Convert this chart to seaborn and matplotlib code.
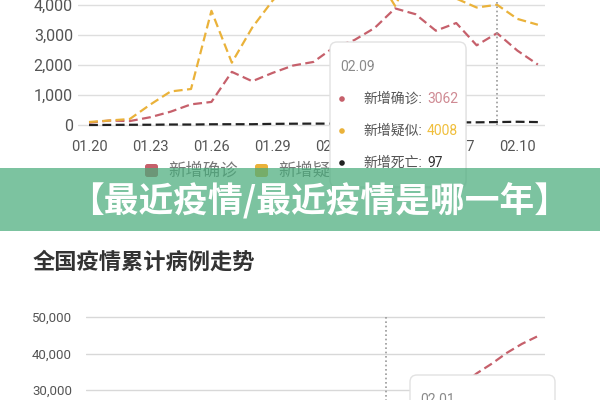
import pandas as pd
import seaborn as sns
import matplotlib.pyplot as plt
import matplotlib.ticker as ticker
from matplotlib.patches import FancyBboxPatch, Circle, Rectangle

# daily national figures, 01.20 - 02.11
dates = ['01.20', '01.21', '01.22', '01.23', '01.24', '01.25', '01.26', '01.27',
         '01.28', '01.29', '01.30', '01.31', '02.01', '02.02', '02.03', '02.04',
         '02.05', '02.06', '02.07', '02.08', '02.09', '02.10', '02.11']
confirmed = [77, 149, 131, 259, 444, 688, 769, 1771, 1459, 1737, 1982, 2102,
             2590, 2829, 3235, 3887, 3694, 3143, 3399, 2656, 3062, 2478, 2015]
suspected = [100, 150, 200, 680, 1118, 1200, 3806, 2077, 3248, 4148, 4812, 5019,
             4562, 5173, 5072, 3971, 5328, 4833, 4214, 3916, 4008, 3536, 3342]
deaths = [0, 3, 8, 8, 16, 15, 24, 26, 26, 38, 43, 46,
          45, 57, 64, 65, 73, 73, 86, 89, 97, 108, 97]
cum_confirmed = [291, 440, 571, 830, 1287, 1975, 2744, 4515, 5974, 7711, 9692, 11791,
                 14380, 17205, 20438, 24324, 28018, 31161, 34546, 37198, 40171, 42638, 44653]

series_names = ['新增确诊', '新增疑似', '新增死亡']
series_colors = ['#c6606b', '#eab23a', '#222222']
value_colors = ['#cf8a93', '#f0bf3c', '#333333']

banner_text = '【最近疫情/最近疫情是哪一年】'
title_text = '全国疫情累计病例走势'

df = pd.DataFrame({'day': range(len(dates)), 'date': dates,
                   '新增确诊': confirmed, '新增疑似': suspected, '新增死亡': deaths,
                   'cum': cum_confirmed})
df_long = df.melt(id_vars=['day', 'date'], value_vars=series_names,
                  var_name='series', value_name='value')

sns.set_theme(style='white')
plt.rcParams['font.family'] = ['Roboto', 'Noto Sans CJK SC', 'DejaVu Sans']
plt.rcParams['axes.unicode_minus'] = False

W, H = 600, 400
fig = plt.figure(figsize=(6, 4), dpi=100)
fig.patch.set_facecolor('white')
T = fig.dpi_scale_trans


def P(px, py):
    return px / 100, (H - py) / 100


# ---- top chart: daily new cases ----
ax1 = fig.add_axes([78 / W, (H - 134) / H, (545 - 78) / W, (134 + 40) / H])
ax1.set_facecolor('none')
sns.lineplot(data=df_long, x='day', y='value', hue='series',
             palette=dict(zip(series_names, series_colors)),
             hue_order=series_names, linewidth=1.6,
             linestyle=(0, (4, 2)), legend=False, ax=ax1)
ax1.set_xlim(-0.54, 22.35)
ax1.set_ylim(-300, 5500)
ax1.set_yticks(range(0, 4001, 1000))
ax1.yaxis.set_major_formatter(ticker.FuncFormatter(lambda v, pos: f'{int(v):,}'))
tick_idx = list(range(0, len(dates), 3))
ax1.set_xticks(tick_idx)
ax1.set_xticklabels([dates[i] for i in tick_idx])
ax1.set(xlabel='', ylabel='')
ax1.grid(axis='y', color='#dedede', linewidth=1.0)
ax1.axhline(5000, color='#dedede', linewidth=1.0)
ax1.grid(axis='x', visible=False)
sns.despine(ax=ax1, left=True, bottom=True)
ax1.tick_params(axis='y', length=0, pad=3.6, labelsize=11.5, labelcolor='#555555')
ax1.tick_params(axis='x', length=0, pad=4.3, labelsize=10.5, labelcolor='#555555')
ax1.vlines(20, 0, 5500, colors='#9a9a9a', linewidth=1.2, linestyles=(0, (1, 1.6)))

# legend under the top chart (third entry sits behind the tooltip)
leg_pos = [(145, 168), (255, 278)]
for (sx, tx), name, col in zip(leg_pos, series_names, series_colors):
    fig.add_artist(FancyBboxPatch(P(sx, 177), 0.13, 0.13, transform=T,
                                  boxstyle='round,pad=0,rounding_size=0.025',
                                  facecolor=col, edgecolor='none', zorder=2))
    fig.text(*P(tx, 170), name, transform=T, fontsize=12.5, color='#777777',
             va='center', ha='left', zorder=2)

# tooltip on 02.09
fig.add_artist(FancyBboxPatch(P(331, 189), 1.36, 1.45, transform=T,
                              boxstyle='round,pad=0,rounding_size=0.07',
                              facecolor='#000000', alpha=0.05, edgecolor='none', zorder=4))
fig.add_artist(FancyBboxPatch(P(330, 187), 1.36, 1.45, transform=T,
                              boxstyle='round,pad=0,rounding_size=0.07',
                              facecolor='white', edgecolor='#e2e2e2', linewidth=1.0, zorder=5))
fig.text(*P(340, 67), dates[20], transform=T, fontsize=10, color='#8a8a8a',
         va='center', ha='left', zorder=6)
tip_vals = [confirmed[20], suspected[20], deaths[20]]
for k, (name, col, vcol, val) in enumerate(zip(series_names, series_colors, value_colors, tip_vals)):
    yy = 99 + 32 * k
    fig.add_artist(Circle(P(342, yy), 0.028, transform=T, facecolor=col,
                          edgecolor='none', zorder=6))
    fig.text(*P(363, yy), name + ':', transform=T, fontsize=10, color='#555555',
             va='center', ha='left', zorder=6)
    fig.text(*P(427, yy), str(val), transform=T, fontsize=10, color=vcol,
             va='center', ha='left', zorder=6)

# ---- bottom chart: cumulative confirmed ----
ax2 = fig.add_axes([86 / W, (H - 499.5) / H, (545 - 86) / W, (499.5 - 315.2) / H])
ax2.set_facecolor('none')
sns.lineplot(data=df, x='day', y='cum', color=series_colors[0], linewidth=1.6,
             linestyle=(0, (4, 2)), legend=False, ax=ax2)
ax2.set_xlim(-7.87, 22.53)
ax2.set_ylim(0, 50500)
ax2.set_yticks(range(30000, 50001, 10000))
ax2.yaxis.set_major_formatter(ticker.FuncFormatter(lambda v, pos: f'{int(v):,}'))
ax2.set_xticks([])
ax2.set(xlabel='', ylabel='')
ax2.grid(axis='y', color='#d8d8d8', linewidth=1.0)
ax2.grid(axis='x', visible=False)
sns.despine(ax=ax2, left=True, bottom=True)
ax2.tick_params(axis='y', length=0, pad=10, labelsize=9.5, labelcolor='#555555')
ax2.vlines(12, 0, 50000, colors='#9a9a9a', linewidth=1.2, linestyles=(0, (1, 1.6)))

fig.text(*P(33, 263), title_text, transform=T, fontsize=16, fontweight='bold',
         color='#333333', va='center', ha='left')

fig.add_artist(FancyBboxPatch(P(410, 440), 1.45, 0.65, transform=T,
                              boxstyle='round,pad=0,rounding_size=0.07',
                              facecolor='white', edgecolor='#e2e2e2', linewidth=1.0, zorder=5))
fig.text(*P(420, 393), dates[12], transform=T, fontsize=10, color='#8a8a8a',
         va='top', ha='left', zorder=6)

# ---- green banner over the picture ----
fig.add_artist(Rectangle(P(0, 231), 6, 0.63, transform=T, facecolor='#4aac7c',
                         alpha=0.72, edgecolor='none', zorder=10))
fig.text(*P(319, 201), banner_text, transform=T, fontsize=25, fontweight='heavy',
         family=['Noto Sans CJK SC', 'DejaVu Sans'], color='white',
         va='center', ha='center', zorder=11)

fig.savefig('out.png', dpi=100)
